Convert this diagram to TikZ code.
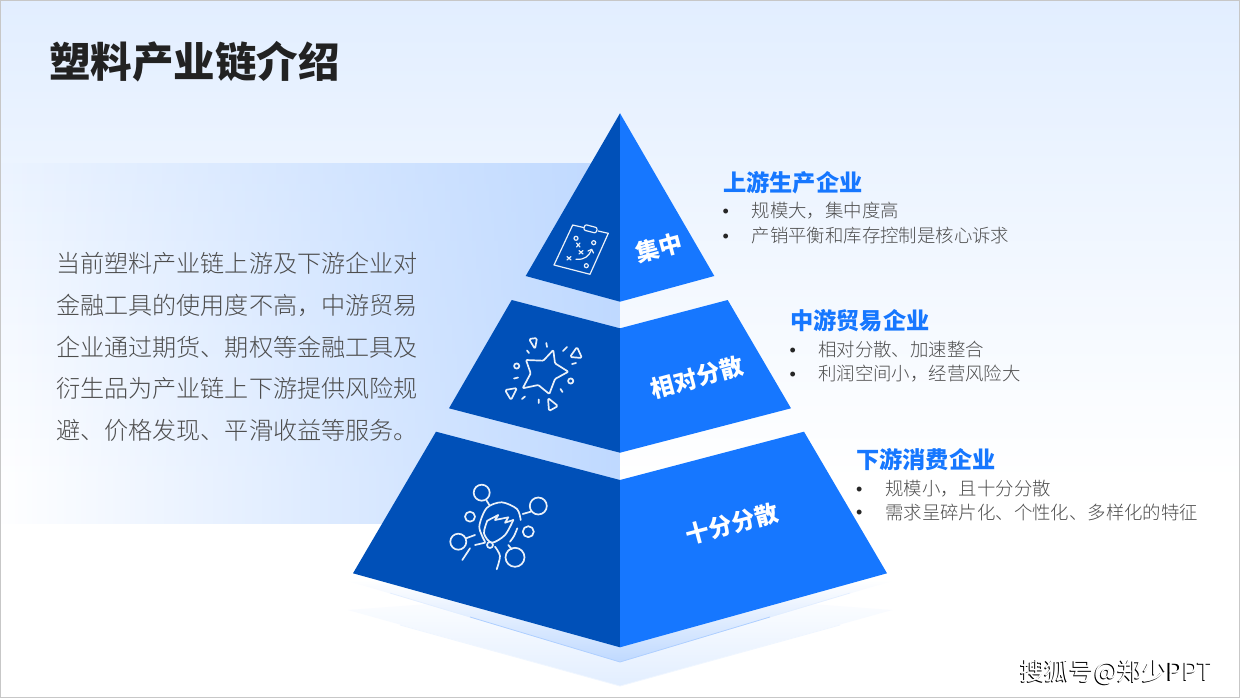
\documentclass[tikz,border=0pt]{standalone}
\usepackage{fontspec}
\setmainfont{Noto Sans CJK SC}
\newfontfamily\lightcjk{Noto Sans CJK SC Light}
\newfontfamily\bulletfont{Liberation Sans}
\usetikzlibrary{fadings}
\definecolor{darkblue}{HTML}{0050B8}
\definecolor{brightblue}{HTML}{1677FF}
\definecolor{bodygray}{HTML}{4D4D4D}
\definecolor{titleink}{HTML}{222222}
\definecolor{bgtop}{HTML}{E2EEFF}
\definecolor{panelblue}{HTML}{BFD9FF}
\tikzfading[name=panelfade, left color=transparent!100, right color=transparent!0]
\tikzset{
  txt/.style={anchor=west,inner sep=0pt},
  titletext/.style={txt,text height=36.5pt,text depth=5pt,font=\fontsize{41.5}{41.5}\selectfont\bfseries,text=titleink},
  bodyline/.style={txt,text height=21.2pt,text depth=2.9pt,font=\fontsize{24.1}{25}\lightcjk,text=bodygray},
  heading/.style={txt,text height=20.4pt,text depth=2.8pt,font=\fontsize{23.2}{24}\selectfont\bfseries,text=brightblue},
  itemtext/.style={txt,text height=16.2pt,text depth=2.2pt,font=\fontsize{18.4}{19}\lightcjk,text=bodygray},
  dot/.style={inner sep=0pt,text height=13.4pt,text depth=0pt,font=\fontsize{18}{18}\bulletfont,text=black!85},
  tierlabel/.style={inner sep=0pt,rotate=15,text height=20.7pt,text depth=2.8pt,text=white,font=\fontsize{23.5}{24}\selectfont\bfseries},
  ico/.style={draw=white!92!darkblue,line width=1.7pt,line cap=round,line join=round},
}
\newcommand{\wmtext}{搜狐号@郑少PPT}
\begin{document}
\begin{tikzpicture}[x=1pt,y=-1pt]
\useasboundingbox (0,0) rectangle (1240,698);
% background
\fill[white] (0,0) rectangle (1240,698);
\shade[top color=bgtop,bottom color=white] (0,0) rectangle (1240,480);
\fill[panelblue,path fading=panelfade] (0,163) rectangle (620,524);
% bottom chevrons
\shade[top color=white,middle color=white!96!bgtop,bottom color=bgtop] (348,610) -- (620,686) -- (892,610) -- (620,590) -- cycle;
\draw[color=white!45!bgtop,line width=.8pt] (400,625) -- (620,686) -- (840,625);
\shade[top color=white,middle color=white,bottom color=panelblue] (345,580) -- (620,662) -- (895,580) -- cycle;
\draw[color=panelblue!45!white,line width=.6pt] (390,593) -- (470,617);
\draw[color=panelblue!45!white,line width=.6pt] (770,617) -- (850,593);
\draw[color=panelblue!90!brightblue,line width=.8pt] (470,617) -- (620,662) -- (770,617);
% pyramid
\fill[darkblue] (620,113.3) -- (525.7,276) -- (620,301.7) -- cycle;
\fill[brightblue] (620,113.3) -- (714.3,276) -- (620,301.7) -- cycle;
\fill[darkblue] (511.7,300) -- (620,328.3) -- (620,452.7) -- (449,408.3) -- cycle;
\fill[brightblue] (727.7,300) -- (620,328.3) -- (620,452.7) -- (791,408.3) -- cycle;
\fill[darkblue] (436,431.7) -- (620,480) -- (620,647.3) -- (353,573.3) -- cycle;
\fill[brightblue] (804,431.7) -- (620,480) -- (620,647.3) -- (887,573.3) -- cycle;
% tier labels
\node[tierlabel] (t1) at (659,248) {集中};
\node[tierlabel] (t2) at (697,377.3) {相对分散};
\node[tierlabel] (t3) at (732,524) {十分分散};
% clipboard icon
\begin{scope}[ico,line width=1.2pt]
\draw (583.5,227.5) -- (572.7,225) -- (554,265) -- (590,274.3) -- (608.3,233.3) -- (598,231);
\draw[rounded corners=2pt] (585,224.5) -- (597.5,227.8) -- (596,233.2) -- (583.5,230) -- cycle;
\draw (576,238.3) circle (2pt) (593.7,242.7) circle (2pt) (586.3,265.7) circle (2pt);
\draw (567,256.5) -- (571,260) (571,256.5) -- (567,260);
\draw (579,250.5) -- (583,254) (583,250.5) -- (579,254);
\draw (576.5,243) -- (580,247) (580,243) -- (576.5,247);
\draw (576,259.3) .. controls (585,260) and (589,256) .. (591.7,249.3);
\draw (588,251) -- (591.7,249.3) -- (593.5,253);
\end{scope}
% star icon
\begin{scope}[ico]
\draw[rounded corners=1pt] (526,360) -- (543.3,360.7) -- (553.3,350) -- (555,363.3) -- (568.3,371.7) -- (555,379) -- (549.3,394) -- (538.3,385) -- (522.7,388.3) -- (530.7,373.3) -- cycle;
\draw[rounded corners=1.5pt] (529,339) -- (537,338) -- (535,349) -- cycle;
\draw[rounded corners=1.5pt] (570,357) -- (577,347) -- (582,358) -- cycle;
\draw[rounded corners=1.5pt] (505,390) -- (517,388) -- (511,400) -- cycle;
\draw[rounded corners=1.5pt] (548,398) -- (558,406) -- (549,411) -- cycle;
\draw (516.7,366) circle (2.6pt) (570.7,381) circle (2.6pt);
\draw (546.3,343) -- (547,347) (567,347) -- (563,351) (572,364) -- (576,363) (527,350.5) -- (529,353);
\draw (514,378.5) -- (518,377.5) (522,399) -- (525,396.5) (538.7,399.5) -- (538.7,403) (560.5,389) -- (562.5,392);
\end{scope}
% people icon
\begin{scope}[ico]
\draw (481.7,492.7) circle (8pt) (538.3,506) circle (8.5pt) (470,516.7) circle (5pt);
\draw (458.3,541.7) circle (8pt) (528.3,531.7) circle (5.5pt) (515,557.3) circle (9.5pt);
\draw (486.7,500.7) -- (489.3,505) (522.7,514) -- (530.7,511.7) (466,538.3) -- (475,535) (508.3,545) -- (511.7,549.3);
\draw plot[smooth] coordinates {(520.7,520) (517,509) (501.7,502.3) (486.7,508) (479.3,526.7) (485,541.7)};
\draw plot[smooth] coordinates {(517.3,528.3) (514,536) (510,541.7)};
\draw plot[smooth] coordinates {(487.3,520.7) (484,533.3) (491.7,542.7) (505,535) (513.3,520)};
\draw (487.3,520.7) -- (498.3,515) -- (495,520) -- (508.3,517.3) -- (505,522.7) -- (513.3,520);
\draw plot[smooth] coordinates {(495,546.7) (500,556) (496.7,569.3)};
\draw (470,548.3) -- (462.3,560);
\draw (475,545) -- (485,542.7);
\draw (490,545) circle (3pt);
\end{scope}
% title
\node[titletext] (title) at (49,62) {塑料产业链介绍};
% body paragraph
\node[bodyline] (b1) at (56,263) {当前塑料产业链上游及下游企业对};
\node[bodyline] (b2) at (56,305) {金融工具的使用度不高，中游贸易};
\node[bodyline] (b3) at (56,347) {企业通过期货、期权等金融工具及};
\node[bodyline] (b4) at (56,388.5) {衍生品为产业链上下游提供风险规};
\node[bodyline] (b5) at (56,430) {避、价格发现、平滑收益等服务。};
% right texts
\node[heading] (h1) at (723,183) {上游生产企业};
\node[dot] (d11) at (725.7,211) {•};
\node[itemtext] (i11) at (751.5,211) {规模大，集中度高};
\node[dot] (d12) at (725.7,235.5) {•};
\node[itemtext] (i12) at (751.5,235.5) {产销平衡和库存控制是核心诉求};
\node[heading] (h2) at (790,321) {中游贸易企业};
\node[dot] (d21) at (792.7,349.5) {•};
\node[itemtext] (i21) at (818,349.5) {相对分散、加速整合};
\node[dot] (d22) at (792.7,373.5) {•};
\node[itemtext] (i22) at (818,373.5) {利润空间小，经营风险大};
\node[heading] (h3) at (856,460) {下游消费企业};
\node[dot] (d31) at (859.3,488.5) {•};
\node[itemtext] (i31) at (885,488.5) {规模小，且十分分散};
\node[dot] (d32) at (859.3,512) {•};
\node[itemtext] (i32) at (885,512) {需求呈碎片化、个性化、多样化的特征};
% watermark with dark offset
\node[txt,text height=21.6pt,text depth=3pt,font=\fontsize{24.7}{25}\selectfont,text=white] (wm) at (1020,671)
  {\rlap{\kern-1.2pt\raisebox{-.8pt}{\textcolor{black}{\wmtext}}}\wmtext};
% slide border
\draw[color=black!22,line width=1pt] (.5,.5) rectangle (1239.5,697.5);
\end{tikzpicture}
\end{document}
